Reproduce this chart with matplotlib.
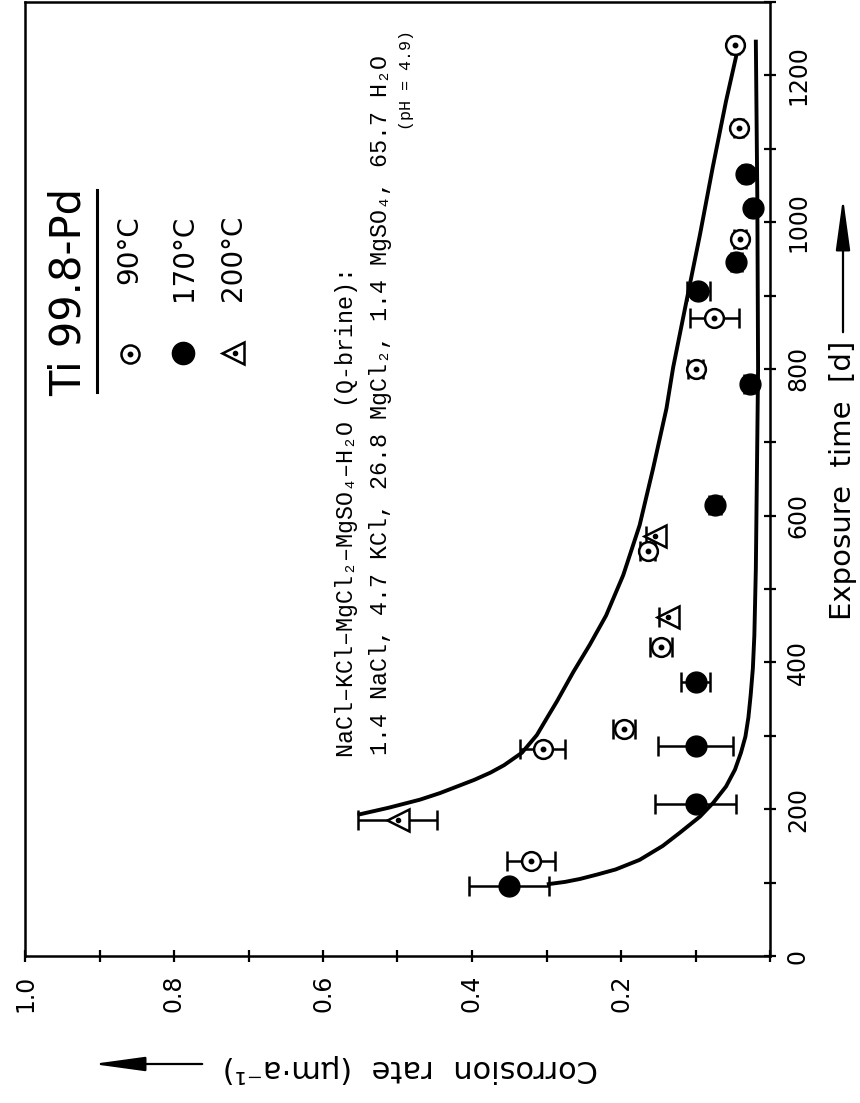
import matplotlib
matplotlib.use("Agg")
import matplotlib.pyplot as plt
from matplotlib import font_manager as fm
from matplotlib.ticker import MultipleLocator
from matplotlib.lines import Line2D

# ---------------- data ----------------
# exposure time [d] / corrosion rate [um/a] / half error
t90 = [129, 282, 310, 421, 552, 800, 869, 977, 1128, 1242]
r90 = [0.321, 0.305, 0.196, 0.146, 0.164, 0.100, 0.075, 0.040, 0.042, 0.047]
e90 = [0.032, 0.030, 0.015, 0.015, 0.010, 0.010, 0.033, 0.008, 0.006, 0.006]

t170 = [95, 207, 286, 374, 614, 780, 906, 946, 1019, 1065]
r170 = [0.350, 0.100, 0.100, 0.100, 0.074, 0.027, 0.096, 0.045, 0.023, 0.032]
e170 = [0.054, 0.055, 0.050, 0.020, 0.008, 0.008, 0.015, 0.008, 0.005, 0.005]

t200 = [186, 462, 573]
r200 = [0.500, 0.137, 0.154]
e200 = [0.053, 0.012, 0.012]

upper_t = [193, 202, 213, 222, 231, 240, 250, 260, 277, 301, 325, 347, 387,
           424, 464, 519, 587, 664, 746, 802, 893, 983, 1074, 1165, 1228]
upper_r = [0.551, 0.512, 0.470, 0.443, 0.420, 0.397, 0.375, 0.357, 0.333,
           0.313, 0.299, 0.286, 0.264, 0.242, 0.220, 0.197, 0.175, 0.157,
           0.139, 0.130, 0.112, 0.094, 0.077, 0.059, 0.045]

lower_t = [98, 101, 105, 111, 118, 131, 150, 168, 190, 209, 231, 254, 277,
           299, 325, 355, 392, 437, 528, 619, 709, 800, 1030, 1246]
lower_r = [0.297, 0.275, 0.255, 0.232, 0.207, 0.175, 0.144, 0.121, 0.094,
           0.076, 0.059, 0.047, 0.039, 0.033, 0.029, 0.026, 0.023, 0.021,
           0.019, 0.018, 0.017, 0.016, 0.017, 0.019]

time_ticks = [0, 200, 400, 600, 800, 1000, 1200]
time_labels = ["0", "200", "400", "600", "800", "1000", "1200"]
rate_ticks = [1.0, 0.8, 0.6, 0.4, 0.2, 0.0]
rate_labels = ["1.0", "0.8", "0.6", "0.4", "0.2", ""]

legend_title = "Ti 99.8-Pd"
legend_labels = ["90°C", "170°C", "200°C"]
brine_line1 = "NaCl–KCl–MgCl₂–MgSO₄–H₂O (Q-brine):"
brine_line2 = "1.4 NaCl, 4.7 KCl, 26.8 MgCl₂, 1.4 MgSO₄, 65.7 H₂O"
brine_line3 = "(pH = 4.9)"
xlabel = "Exposure  time  [d]"
ylabel = "Corrosion  rate  (μm·a⁻¹)"

# ---------------- fonts ----------------
names = {f.name for f in fm.fontManager.ttflist}
if "Liberation Sans Narrow" in names:
    NARROW = ["Liberation Sans Narrow", "DejaVu Sans"]
    tick_fs, title_fs, leg_fs = 23, 38, 25
else:
    NARROW = ["DejaVu Sans"]
    tick_fs, title_fs, leg_fs = 17, 30, 20
MONO = ["Liberation Mono", "DejaVu Sans Mono"]

W, H = 860, 1103
fig = plt.figure(figsize=(W / 100, H / 100), dpi=100)
fig.patch.set_facecolor("white")


def fx(x):
    return x / W


def fy(y):
    return 1 - y / H


ax = fig.add_axes([fx(25), fy(956), (770 - 25) / W, (956 - 2) / H])
ax.set_xlim(1.0, 0.0)
ax.set_ylim(0, 1300)
for s in ax.spines.values():
    s.set_linewidth(1.8)

ax.yaxis.tick_right()
ax.xaxis.tick_bottom()
ax.set_yticks(time_ticks)
ax.set_yticklabels(time_labels, rotation=90, va="center", family=NARROW,
                   fontsize=tick_fs)
ax.set_xticks(rate_ticks)
ax.set_xticklabels(rate_labels, rotation=90, family=NARROW, fontsize=tick_fs)
ax.yaxis.set_minor_locator(MultipleLocator(100))
ax.xaxis.set_minor_locator(MultipleLocator(0.1))
ax.tick_params(which="both", direction="inout", length=9, width=1.6,
               right=True, left=False, top=False, bottom=True)
ax.tick_params(axis="y", pad=7)
ax.tick_params(axis="x", pad=9)

# fitted curves
ax.plot(upper_r, upper_t, color="black", lw=2.8, zorder=2)
ax.plot(lower_r, lower_t, color="black", lw=2.8, zorder=2)

# error bars
ekw = dict(fmt="none", ecolor="black", elinewidth=1.8, capsize=7.5,
           capthick=1.8, zorder=3)
ax.errorbar(r90, t90, xerr=e90, **ekw)
ax.errorbar(r170, t170, xerr=e170, **ekw)
ax.errorbar(r200, t200, xerr=e200, **ekw)

# markers
ax.plot(r90, t90, "o", ms=13.5, mfc="white", mec="black", mew=1.8,
        ls="none", zorder=4)
ax.plot(r90, t90, "o", ms=3.2, color="black", ls="none", zorder=5)
ax.plot(r170, t170, "o", ms=15, color="black", ls="none", zorder=4)
ax.plot(r200, t200, "<", ms=15.5, mfc="white", mec="black", mew=1.8,
        ls="none", zorder=4)
ax.plot(r200, t200, "o", ms=3, color="black", ls="none", zorder=5)

# legend (drawn by hand, rotated like the chart)
fig.text(fx(69), fy(292), legend_title, rotation=90, ha="center",
         va="center", family=NARROW, fontsize=title_fs)
fig.add_artist(Line2D([fx(97), fx(97)], [fy(190), fy(392)], color="black",
                      lw=2.2, transform=fig.transFigure))
leg_x = [129, 184, 233]
for lx, lab in zip(leg_x, legend_labels):
    fig.text(fx(lx), fy(215), lab, rotation=90, ha="center", va="top",
             family=NARROW, fontsize=leg_fs)
mk = dict(transform=fig.transFigure, ls="none")
fig.add_artist(Line2D([fx(130)], [fy(354)], marker="o", ms=13, mfc="white",
                      mec="black", mew=1.8, **mk))
fig.add_artist(Line2D([fx(130)], [fy(354)], marker="o", ms=3.2,
                      color="black", **mk))
fig.add_artist(Line2D([fx(183)], [fy(353)], marker="o", ms=16,
                      color="black", **mk))
fig.add_artist(Line2D([fx(233)], [fy(353)], marker="<", ms=16, mfc="white",
                      mec="black", mew=1.8, **mk))
fig.add_artist(Line2D([fx(235)], [fy(353)], marker="o", ms=3,
                      color="black", **mk))

# brine composition text
fig.text(fx(346), fy(757), brine_line1, rotation=90, ha="center",
         va="bottom", family=MONO, fontsize=16.8)
fig.text(fx(381), fy(755), brine_line2, rotation=90, ha="center",
         va="bottom", family=MONO, fontsize=16.8)
fig.text(fx(407), fy(30), brine_line3, rotation=90, ha="center",
         va="top", family=MONO, fontsize=12)

# axis labels with arrows
arrow_kw = dict(arrowstyle="-|>,head_length=1.6,head_width=0.22",
                lw=1.6, color="black", mutation_scale=20)
fig.text(fx(843), fy(480), xlabel, rotation=90, ha="center", va="center",
         fontsize=21)
ax.annotate("", xy=(fx(843), fy(195)), xytext=(fx(843), fy(335)),
            xycoords="figure fraction", textcoords="figure fraction",
            arrowprops=arrow_kw, annotation_clip=False)
fig.text(fx(410), fy(1068), ylabel, rotation=180, ha="center", va="center",
         fontsize=22)
ax.annotate("", xy=(fx(90), fy(1064)), xytext=(fx(205), fy(1064)),
            xycoords="figure fraction", textcoords="figure fraction",
            arrowprops=arrow_kw, annotation_clip=False)

fig.savefig("out.png", dpi=100, facecolor="white")
